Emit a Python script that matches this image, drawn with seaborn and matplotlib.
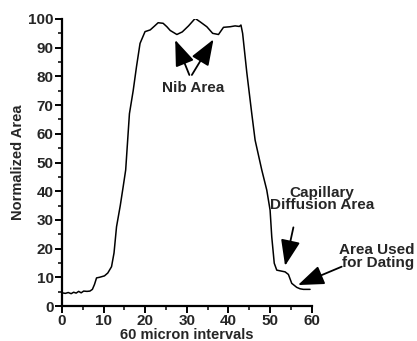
import matplotlib
matplotlib.use("Agg")
import matplotlib.pyplot as plt
import seaborn as sns
import pandas as pd
from matplotlib.ticker import MultipleLocator

sns.set_style("ticks")
plt.rcParams['font.family'] = ['Liberation Sans', 'DejaVu Sans']

x_vals = [0, 0.8, 1.5, 2.2, 2.8, 3.4, 4.0, 4.6, 5.2, 6.0, 6.7, 7.3, 7.8, 8.3, 9.0, 10.2, 11.0, 11.9, 12.5, 13.1, 14.0, 14.7, 15.3,
          16.2, 17.1, 17.9, 18.75, 19.95, 21.2, 22.2, 23.1, 24.3, 25.2, 26.0, 27.6, 28.9, 30.4, 32.0, 33.2, 34.8, 36.2,
          37.6, 38.8, 40.4, 41.6, 42.6, 43.0, 43.4, 44.4, 45.6, 46.4, 48.0, 49.2, 50.0, 50.4, 51.0, 51.6, 52.6, 53.6,
          54.4, 55.2, 56.4, 57.2, 58.0, 59.6]
y_vals = [4.6, 4.4, 4.7, 4.3, 4.8, 4.5, 5.1, 4.6, 5.2, 5.1, 5.2, 5.8, 7.5, 9.8, 10.0, 10.5, 11.5, 13.7, 18.5, 27.6, 35.0, 41.6, 47.4,
          67.0, 75.0, 83.4, 91.5, 95.6, 96.2, 97.5, 98.7, 98.5, 97.3, 96.0, 94.6, 95.5, 97.6, 100.2, 99.0, 97.3, 95.0,
          94.6, 97.1, 97.3, 97.6, 97.4, 97.9, 95.0, 81.4, 67.0, 57.8, 47.4, 40.4, 33.4, 24.1, 14.9, 12.5, 12.2, 11.9,
          11.0, 7.9, 6.5, 6.0, 5.8, 5.8]

df = pd.DataFrame({"x": x_vals, "y": y_vals})

fig = plt.figure(figsize=(4.17, 3.41), dpi=100)
ax = fig.add_axes([0.1487, 0.1026, 0.5988, 0.8417])
sns.lineplot(data=df, x="x", y="y", ax=ax, color="black", linewidth=1.1)

ax.set_xlim(0, 60)
ax.set_ylim(0, 100)
ax.xaxis.set_major_locator(MultipleLocator(10))
ax.xaxis.set_minor_locator(MultipleLocator(5))
ax.yaxis.set_major_locator(MultipleLocator(10))
ax.yaxis.set_minor_locator(MultipleLocator(5))
for s in ["top", "right"]:
    ax.spines[s].set_visible(False)
for s in ["left", "bottom"]:
    ax.spines[s].set_linewidth(1.6)
    ax.spines[s].set_color("black")
ax.tick_params(which="major", length=5, width=1.4, color="black", labelsize=11, pad=1)
ax.tick_params(which="minor", length=3, width=1.1, color="black")
for lab in ax.get_xticklabels() + ax.get_yticklabels():
    lab.set_fontweight("bold")
ax.set_xlabel("60 micron intervals", fontsize=10.5, fontweight="bold", labelpad=0)
ax.set_ylabel("Normalized Area", fontsize=10.5, fontweight="bold", labelpad=2)

arrow = dict(arrowstyle="-|>,head_length=1.6,head_width=0.6", color="black", lw=1.3, shrinkA=0, shrinkB=0)
ax.annotate("", xy=(27.2, 92.7), xytext=(30.6, 80.5), arrowprops=arrow)
ax.annotate("", xy=(36.4, 92.9), xytext=(31.2, 80.5), arrowprops=arrow)
ax.text(31.5, 75.8, "Nib Area", ha="center", va="center", fontsize=11, fontweight="bold")

ax.annotate("", xy=(53.6, 14.0), xytext=(55.6, 27.4), arrowprops=arrow)
ax.text(62.4, 37.2, "Capillary\nDiffusion Area", ha="center", va="center", fontsize=11,
        fontweight="bold", linespacing=0.85, clip_on=False)

ax.annotate("", xy=(56.7, 7.3), xytext=(67.2, 13.7), arrowprops=arrow, annotation_clip=False)
ax.text(84.6, 17.2, "Area Used\nfor Dating", ha="right", va="center", fontsize=11,
        fontweight="bold", linespacing=0.85, multialignment="right", clip_on=False)

fig.savefig("out.png", dpi=100)
